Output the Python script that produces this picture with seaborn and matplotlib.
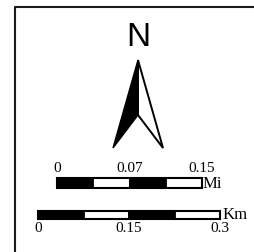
import matplotlib
matplotlib.use("Agg")
import matplotlib.pyplot as plt
import seaborn as sns
from matplotlib.patches import Polygon

sns.set_style("white")
plt.rcParams['font.family'] = ['Liberation Serif', 'DejaVu Serif']

# ---- data ----
mi_labels = ["0", "0.07", "0.15"]
mi_ticks = [0, 0.075, 0.15]
mi_seg_left = [0, 0.0375, 0.075, 0.1125]
mi_seg_width = [0.0375, 0.0375, 0.0375, 0.0375]
mi_seg_color = ["black", "white", "black", "white"]
mi_unit = "Mi"

km_labels = ["0", "0.15", "0.3"]
km_ticks = [0, 0.15, 0.3]
km_seg_left = [0, 0.075, 0.15, 0.225]
km_seg_width = [0.075, 0.075, 0.075, 0.075]
km_seg_color = ["black", "white", "black", "white"]
km_unit = "Km"

north_label = "N"

W, H = 254, 252
fig = plt.figure(figsize=(W / 100, H / 100), dpi=100)
fig.patch.set_facecolor("white")

# main canvas in pixel units
ax = fig.add_axes([0, 0, 1, 1])
ax.set_xlim(0, W)
ax.set_ylim(H, 0)
ax.axis("off")

# frame (cut at right / bottom)
ax.plot([15, 15, W + 5], [H + 5, 7, 7], color="#1a1a1a", lw=1.5, solid_capstyle="butt")

# north label and arrow
ax.text(138, 38, north_label, ha="center", va="center", fontsize=24,
        family=["Liberation Sans", "DejaVu Sans"], color="black")
tip, left, notch, right = (138, 60), (113, 148), (138, 115), (163, 148)
ax.add_patch(Polygon([tip, left, notch], closed=True, facecolor="black",
                     edgecolor="black", lw=1.0, joinstyle="miter"))
ax.add_patch(Polygon([tip, notch, right], closed=True, facecolor="white",
                     edgecolor="black", lw=1.4, joinstyle="miter"))


def scale_bar(x0, x1, ytop, ybot, lefts, widths, colors, ticks, labels, above, unit, unit_dx):
    a = fig.add_axes([x0 / W, (H - ybot) / H, (x1 - x0) / W, (ybot - ytop) / H])
    a.set_xlim(ticks[0], ticks[-1])
    a.set_ylim(0, 1)
    a.axis("off")
    a.barh([0.5] * len(lefts), widths, left=lefts, height=1.0, color=colors,
           edgecolor="black", linewidth=1.3, clip_on=False)
    a.add_patch(plt.Rectangle((ticks[0], 0), ticks[-1] - ticks[0], 1, fill=False,
                              edgecolor="black", lw=1.5, clip_on=False))
    for t, lab in zip(ticks, labels):
        if above:
            a.annotate(lab, (t, 1), xytext=(0, 2.5), textcoords="offset points",
                       ha="center", va="bottom", fontsize=11, color="black")
        else:
            a.annotate(lab, (t, 0), xytext=(0, -2), textcoords="offset points",
                       ha="center", va="top", fontsize=11, color="black")
    a.annotate(unit, (ticks[-1], 0), xytext=(unit_dx, 0), textcoords="offset points",
               ha="left", va="baseline", fontsize=12, color="black")


scale_bar(57, 202, 178, 188, mi_seg_left, mi_seg_width, mi_seg_color,
          mi_ticks, mi_labels, True, mi_unit, 0.5)
scale_bar(38, 220, 211, 219, km_seg_left, km_seg_width, km_seg_color,
          km_ticks, km_labels, False, km_unit, 1.5)

fig.savefig("out.png", dpi=100, facecolor="white")
